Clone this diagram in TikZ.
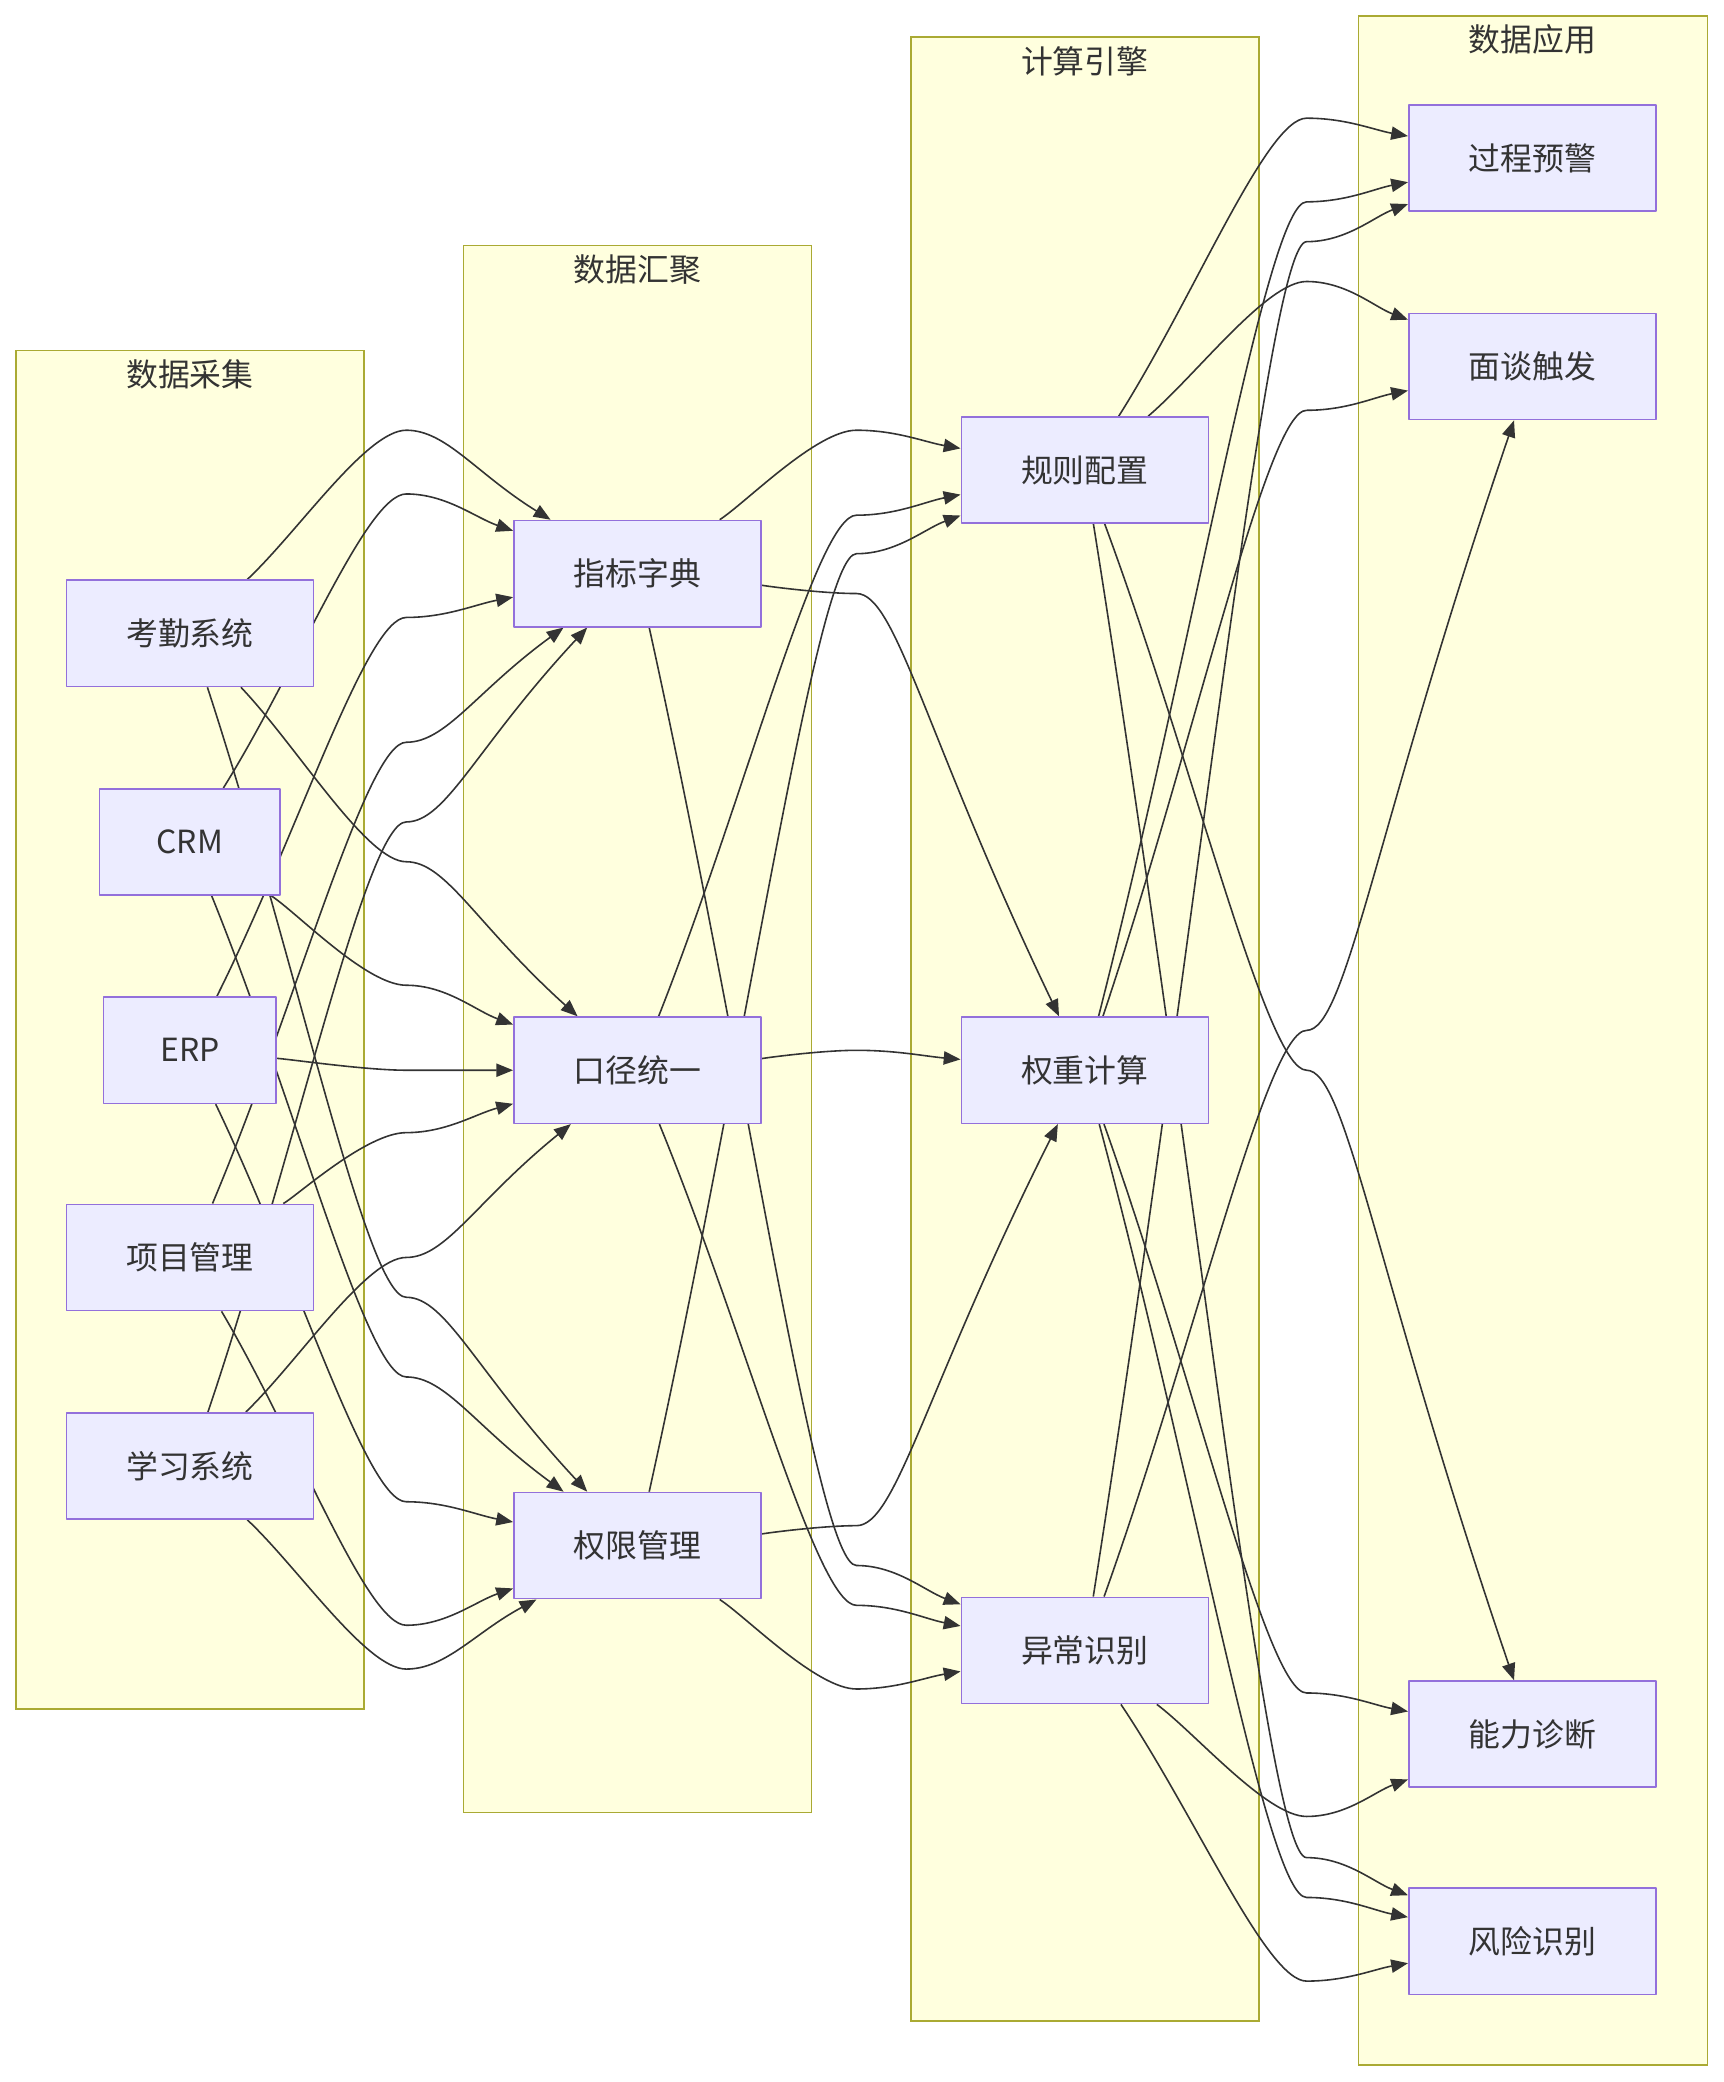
\documentclass[tikz,border=0pt]{standalone}
\usepackage{fontspec}
\setmainfont{Noto Sans CJK SC}
\usepackage{tikz}
\usetikzlibrary{arrows.meta,calc,backgrounds}
\definecolor{nodefill}{HTML}{ECECFF}
\definecolor{nodeline}{HTML}{9370DB}
\definecolor{groupfill}{HTML}{FFFFDE}
\definecolor{groupline}{HTML}{AAAA33}
\definecolor{inkgray}{HTML}{333333}
\pgfdeclarelayer{edgelayer}
\pgfsetlayers{background,edgelayer,main}

\begin{document}
\begin{tikzpicture}[x=0.75pt, y={(0,-0.75pt)}, line join=round,
  group/.style={draw=groupline, fill=groupfill, line width=0.9pt},
  grouptitle/.style={text=inkgray, inner sep=0pt, font=\fontsize{18pt}{22pt}\selectfont},
  box/.style={draw=nodeline, fill=nodefill, line width=0.9pt, inner xsep=33.75pt,
    minimum height=60pt, text=inkgray, font=\fontsize{18pt}{22pt}\selectfont},
  flow/.style={draw=inkgray, line width=0.9pt, -{Triangle[length=9.5pt,width=7.5pt]}}]
  \useasboundingbox (0,0) rectangle (1298,1568);
  \begin{pgfonlayer}{background}
    \draw[group] (12,264) rectangle (274,1287);
    \draw[group] (349,185) rectangle (611,1365);
    \draw[group] (686,28) rectangle (948,1522);
    \draw[group] (1023,12) rectangle (1286,1555);
  \end{pgfonlayer}
  \node[grouptitle] (caiji) at (143,282) {数据采集};
  \node[grouptitle] (huiju) at (480,203) {数据汇聚};
  \node[grouptitle] (yinqing) at (817,46) {计算引擎};
  \node[grouptitle] (yingyong) at (1154,30) {数据应用};
  \node[box] (kq) at (143,477) {考勤系统};
  \node[box, inner xsep=0pt, minimum width=102pt] (crm) at (143,634) {CRM};
  \node[box, inner xsep=0pt, minimum width=97.5pt] (erp) at (143,791) {ERP};
  \node[box] (xm) at (143,947) {项目管理};
  \node[box] (xx) at (143,1104) {学习系统};
  \node[box] (zb) at (480,432) {指标字典};
  \node[box] (kj) at (480,806) {口径统一};
  \node[box] (qx) at (480,1164) {权限管理};
  \node[box] (gz) at (817,354) {规则配置};
  \node[box] (qz) at (817,806) {权重计算};
  \node[box] (yc) at (817,1243) {异常识别};
  \node[box] (gc) at (1154,119) {过程预警};
  \node[box] (mt) at (1154,276) {面谈触发};
  \node[box] (nl) at (1154,1306) {能力诊断};
  \node[box] (fx) at (1154,1462) {风险识别};
  \begin{pgfonlayer}{edgelayer}
    \foreach \s/\wy/\t in {kq/324/zb, crm/372/zb, erp/465/zb, xm/559/zb, xx/619/zb,
        kq/649/kj, crm/742/kj, erp/806/kj, xm/853/kj, xx/947/kj,
        kq/977/qx, crm/1037/qx, erp/1131/qx, xm/1224/qx, xx/1257/qx}
      \draw[flow] (\s) .. controls ($(\s)!0.5!(306,\wy)$) and (276,\wy) .. (306,\wy)
        .. controls (336,\wy) and ($(306,\wy)!0.3!(\t)$) .. (\t);
    \foreach \s/\wy/\t in {zb/324/gz, kj/388/gz, qx/417/gz,
        zb/447/qz, kj/791/qz, qx/1149/qz,
        zb/1179/yc, kj/1209/yc, qx/1272/yc}
      \draw[flow] (\s) .. controls ($(\s)!0.5!(645,\wy)$) and (615,\wy) .. (645,\wy)
        .. controls (675,\wy) and ($(645,\wy)!0.3!(\t)$) .. (\t);
    \foreach \s/\wy/\t in {gz/89/gc, qz/152/gc, yc/182/gc,
        gz/212/mt, qz/309/mt, yc/776/mt,
        gz/806/nl, qz/1275/nl, yc/1368/nl,
        gz/1399/fx, qz/1429/fx, yc/1492/fx}
      \draw[flow] (\s) .. controls ($(\s)!0.5!(984,\wy)$) and (954,\wy) .. (984,\wy)
        .. controls (1014,\wy) and ($(984,\wy)!0.3!(\t)$) .. (\t);
  \end{pgfonlayer}
\end{tikzpicture}
\end{document}
